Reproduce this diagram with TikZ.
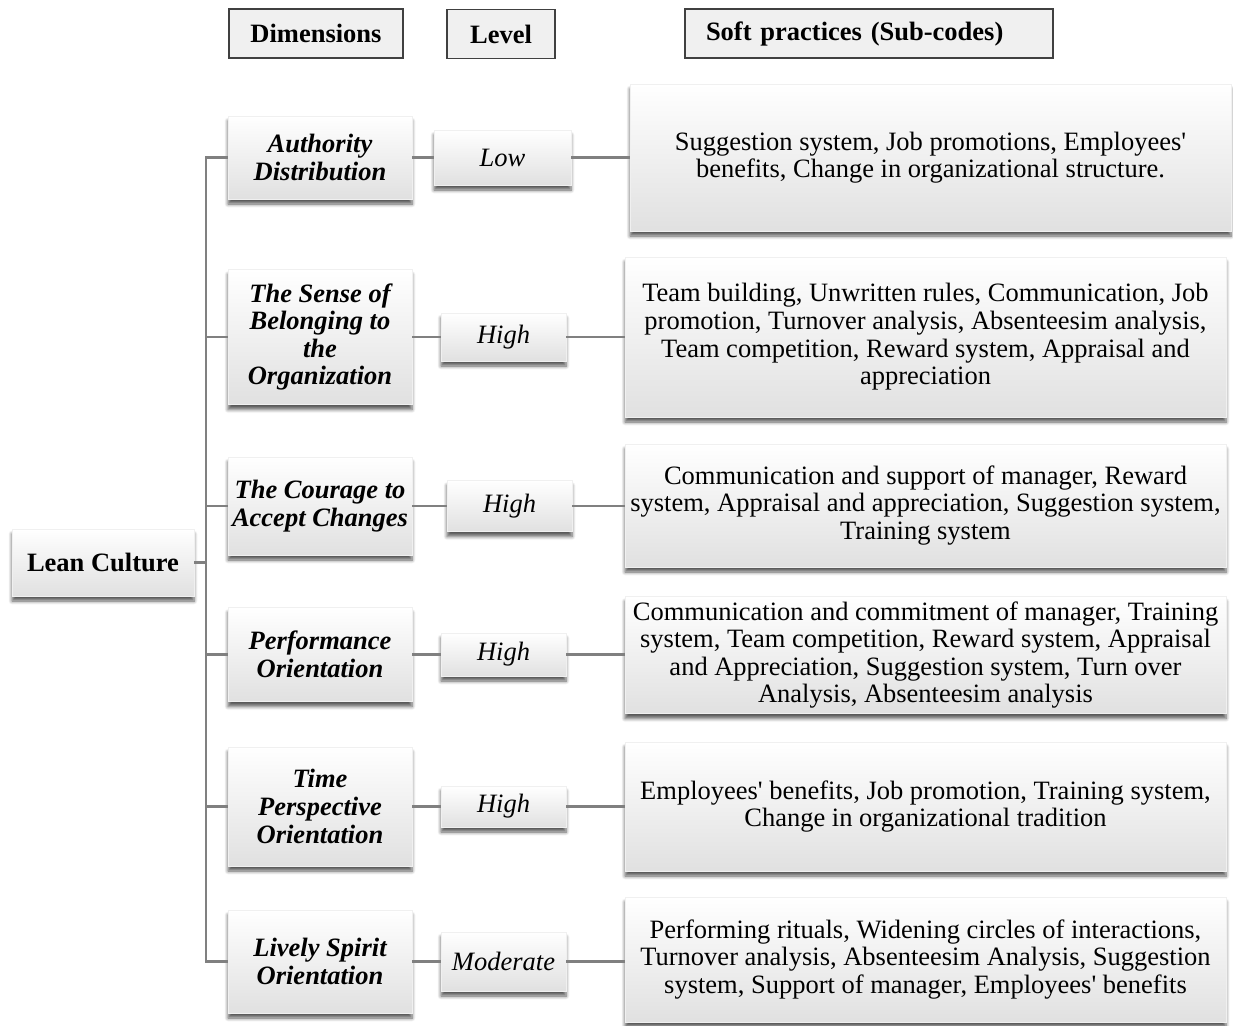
\documentclass[tikz,border=0pt]{standalone}
\usepackage{fontspec}
\setmainfont{Liberation Serif}
\usetikzlibrary{shadows.blur}
\newcommand{\ap}{\textquotesingle}
\newcommand{\boxfont}{\fontsize{26.5}{27.6}\selectfont}

\tikzset{
  base/.style={inner sep=2pt, align=center, font=\boxfont},
  card/.style={base, draw=black!6, line width=0.6pt,
    top color=white, middle color=white, bottom color=black!12,
    blur shadow={shadow xshift=0pt, shadow yshift=-5pt, shadow blur radius=3.5pt,
                 shadow blur steps=6, shadow opacity=65}},
  dimbox/.style={card, font=\boxfont\bfseries\itshape, minimum width=184pt},
  lvlbox/.style={card, font=\boxfont\itshape, minimum width=125pt},
  practice/.style={card, minimum width=601pt},
  header/.style={base, font=\boxfont\bfseries,
    draw=black!75, line width=1.4pt, fill=black!6, minimum height=49pt},
  link/.style={draw=black!50, line width=2.4pt}
}

\begin{document}
\begin{tikzpicture}[x=1pt, y=-1pt]
\useasboundingbox (0,0) rectangle (1233,1025);

% column headings
\node[header, minimum width=174pt] (hdim) at (316,33.5) {Dimensions};
\node[header, minimum width=108pt] (hlvl) at (501,34) {Level};
\node[header, minimum width=368pt, text width=326pt, align=left] (hsoft) at (869,33.5) {Soft practices (Sub-codes)};

% root
\node[card, font=\boxfont\bfseries,
      minimum width=182pt, minimum height=67pt] (lean) at (103,562.5) {Lean Culture};

% dimensions
\node[dimbox, minimum height=83pt]  (d1) at (320,157.5) {Authority\\Distribution};
\node[dimbox, minimum height=135pt] (d2) at (320,337)   {The Sense of\\Belonging to\\the\\Organization};
\node[dimbox, minimum height=98pt]  (d3) at (320,506)   {The Courage to\\Accept Changes};
\node[dimbox, minimum height=94pt]  (d4) at (320,654.5) {Performance\\Orientation};
\node[dimbox, minimum height=119pt] (d5) at (320,806.5) {Time\\Perspective\\Orientation};
\node[dimbox, minimum height=103pt] (d6) at (320,961.5) {Lively Spirit\\Orientation};

% levels
\node[lvlbox, minimum width=137pt, minimum height=55pt] (l1) at (502.5,157.5) {Low};
\node[lvlbox, minimum height=48pt] (l2) at (503.5,337)   {High};
\node[lvlbox, minimum height=51pt] (l3) at (509.5,506)   {High};
\node[lvlbox, minimum height=43pt] (l4) at (503.5,654.5) {High};
\node[lvlbox, minimum height=41pt] (l5) at (503.5,806.5) {High};
\node[lvlbox, minimum height=59pt] (l6) at (503.5,961.5) {Moderate};

% soft practices
\node[practice, minimum height=147pt] (p1) at (930.5,157.5)
  {Suggestion system, Job promotions, Employees\ap\\benefits, Change in organizational structure.};
\node[practice, minimum height=160pt] (p2) at (925.5,337)
  {Team building, Unwritten rules, Communication, Job\\promotion, Turnover analysis, Absenteesim analysis,\\Team competition, Reward system, Appraisal and\\appreciation};
\node[practice, minimum height=123pt] (p3) at (925.5,505.5)
  {Communication and support of manager, Reward\\system, Appraisal and appreciation, Suggestion system,\\Training system};
\node[practice, minimum height=117pt] (p4) at (925.5,655)
  {Communication and commitment of manager, Training\\system, Team competition, Reward system, Appraisal\\and Appreciation, Suggestion system, Turn over\\Analysis, Absenteesim analysis};
\node[practice, minimum height=129pt] (p5) at (925.5,806.5)
  {Employees\ap\ benefits, Job promotion, Training system,\\Change in organizational tradition};
\node[practice, minimum height=125pt] (p6) at (925.5,959.5)
  {Performing rituals, Widening circles of interactions,\\Turnover analysis, Absenteesim Analysis, Suggestion\\system, Support of manager, Employees\ap\ benefits};

% tree connectors
\coordinate (trunk) at (206,562.5);
\foreach \k in {1,...,6}{
  \draw[link] (lean.east) -- (trunk) |- (d\k.west);
  \draw[link] (d\k.east) -- (l\k.west |- d\k.east);
  \draw[link] (l\k.east) -- (p\k.west |- l\k.east);
}
\end{tikzpicture}
\end{document}
